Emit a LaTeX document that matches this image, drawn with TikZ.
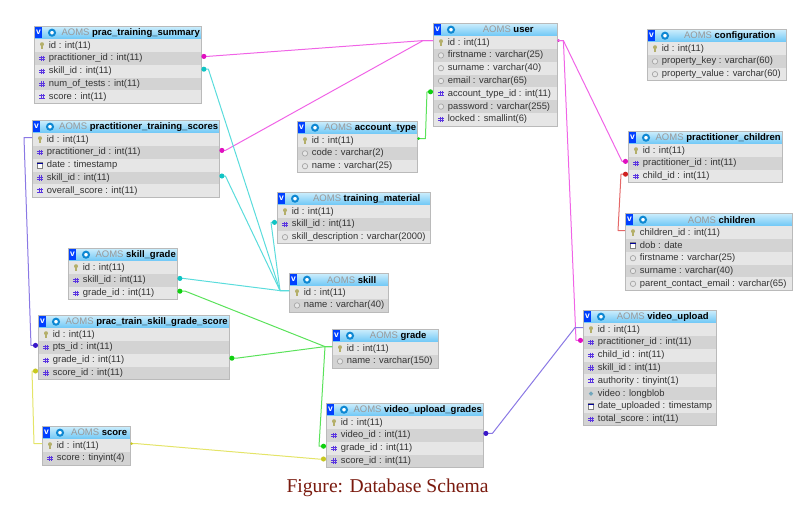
\documentclass[tikz,border=0pt]{standalone}
\usepackage{fontspec}
\setmainfont{Liberation Sans}
\newfontfamily\captionfont{Liberation Serif}
\usetikzlibrary{arrows.meta, calc}

\definecolor{rowa}{HTML}{E6E6E6}
\definecolor{rowb}{HTML}{D3D3D3}
\definecolor{bartop}{HTML}{CDEEFC}
\definecolor{barbot}{HTML}{6CC6F6}
\definecolor{hashblue}{HTML}{5A35E0}
\definecolor{linepink}{HTML}{F064E6}
\definecolor{dotpink}{HTML}{E010C0}
\definecolor{linecyan}{HTML}{5ADCDC}
\definecolor{dotcyan}{HTML}{10C4C4}
\definecolor{linegreen}{HTML}{5AE25A}
\definecolor{dotgreen}{HTML}{10D010}
\definecolor{linepurple}{HTML}{8A78E4}
\definecolor{dotpurple}{HTML}{3A18C8}
\definecolor{lineyellow}{HTML}{E4E468}
\definecolor{dotyellow}{HTML}{C8C820}
\definecolor{linered}{HTML}{E46868}
\definecolor{dotred}{HTML}{D02020}

\tikzset{
  titlebar/.style={rectangle, inner sep=0, minimum height=13pt, top color=bartop, bottom color=barbot},
  checkbox/.style={rectangle, fill=blue!75!cyan, text=white, inner sep=0, minimum width=7.5pt, minimum height=11.5pt, font=\fontsize{8.5}{8.5}\bfseries\selectfont},
  gear/.style={circle, draw=cyan!70!blue, line width=2pt, fill=white, inner sep=0, minimum size=6pt},
  titletext/.style={inner sep=0, text=black, font=\fontsize{9.5}{10}\selectfont},
  rowbox/.style={rectangle, inner sep=0, minimum height=12.8pt, anchor=north west},
  rowtext/.style={inner sep=0, anchor=west, text=black!80, font=\fontsize{9.4}{10}\selectfont},
  tableframe/.style={draw=black!27, line width=0.9pt},
  rel/.style 2 args={draw=#1, line width=1pt, line join=round, -{Circle[length=5pt, color=#2, fill=#2]}},
  relpk/.style 2 args={draw=#1, line width=1pt, line join=round, {Circle[length=2.5pt, color=#2, fill=#2]}-{Circle[length=5pt, color=#2, fill=#2]}},
  pics/icon-k/.style={code={
    \fill[yellow!55!black!75] (0,-1.4) circle (2pt);
    \fill[yellow!55!black!75] (-1,-1) rectangle (1,3.2);}},
  pics/icon-h/.style={code={
    \draw[hashblue, line width=0.8pt] (-2.6,-1.1) -- (2.6,-1.1) (-2.6,1.1) -- (2.6,1.1) (-1.1,-2.6) -- (-1.1,2.6) (1.1,-2.6) -- (1.1,2.6);}},
  pics/icon-c/.style={code={
    \draw[black!35, fill=rowa, line width=0.7pt] (0,0) circle (2.7pt);}},
  pics/icon-d/.style={code={
    \draw[black!50, fill=white, line width=0.6pt] (-2.7,-2.7) rectangle (2.7,2.7);
    \fill[blue!60!black] (-2.7,-2.7) rectangle (2.7,-1.2);}},
  pics/icon-b/.style={code={
    \fill[cyan!60!black!70] (-2.2,0) -- (0,-2.2) -- (2.2,0) -- (0,2.2) -- cycle;}}
}

% name, left, top, width, title, rows as icon/text
\newcommand{\dbtable}[6]{%
  \node[titlebar, minimum width=#4pt, anchor=north west] (#1-0) at (#2,#3) {};
  \node[checkbox] (#1-c) at ([xshift=4.5pt]#1-0.west) {v};
  \node[gear] (#1-g) at ([xshift=18pt]#1-0.west) {};
  \node[titletext] (#1-t) at ([xshift=13pt]#1-0.center) {\textcolor{black!40}{AOMS} \textbf{#5}};
  \foreach \ic/\txt [count=\i] in {#6} {
    \ifodd\i\def\rowcol{rowa}\else\def\rowcol{rowb}\fi
    \pgfmathsetmacro\rowy{#3+13+(\i-1)*12.8}
    \node[rowbox, fill=\rowcol, minimum width=#4pt] (#1-\i) at (#2,\rowy) {};
    \node[rowtext] (#1-\i-t) at ([xshift=14.7pt]#1-\i.west) {\txt};
    \pic at ([xshift=8pt]#1-\i.west) {icon-\ic};
    \coordinate (#1-\i-l) at ([yshift=2pt]#1-\i.west);
    \coordinate (#1-\i-r) at ([yshift=2pt]#1-\i.east);
    \xdef\lastrow{\i}
  }
  \draw[tableframe] (#1-0.north west) rectangle (#1-\lastrow.south east);
}

\begin{document}
\begin{tikzpicture}[x=1pt, y=-1pt]
  \useasboundingbox (0,0) rectangle (802,509);

  % Left column
  \dbtable{summary}{34}{26}{167}{prac\_training\_summary}{k/id : int(11), h/practitioner\_id : int(11), h/skill\_id : int(11), h/num\_of\_tests : int(11), h/score : int(11)}
  \dbtable{scores}{32}{120}{187}{practitioner\_training\_scores}{k/id : int(11), h/practitioner\_id : int(11), d/date : timestamp, h/skill\_id : int(11), h/overall\_score : int(11)}
  \dbtable{skillgrade}{68}{248}{109}{skill\_grade}{k/id : int(11), h/skill\_id : int(11), h/grade\_id : int(11)}
  \dbtable{ptsgs}{38}{315}{191}{prac\_train\_skill\_grade\_score}{k/id : int(11), h/pts\_id : int(11), h/grade\_id : int(11), h/score\_id : int(11)}
  \dbtable{score}{42}{426}{88}{score}{k/id : int(11), h/score : tinyint(4)}

  % Middle column
  \dbtable{user}{433}{23}{124}{user}{k/id : int(11), c/firstname : varchar(25), c/surname : varchar(40), c/email : varchar(65), h/account\_type\_id : int(11), c/password : varchar(255), h/locked : smallint(6)}
  \dbtable{account}{297}{121}{120}{account\_type}{k/id : int(11), c/code : varchar(2), c/name : varchar(25)}
  \dbtable{material}{277}{192}{153}{training\_material}{k/id : int(11), h/skill\_id : int(11), c/skill\_description : varchar(2000)}
  \dbtable{skill}{289}{273}{99}{skill}{k/id : int(11), c/name : varchar(40)}
  \dbtable{grade}{332}{329}{106}{grade}{k/id : int(11), c/name : varchar(150)}
  \dbtable{vugrades}{326}{403}{157}{video\_upload\_grades}{k/id : int(11), h/video\_id : int(11), h/grade\_id : int(11), h/score\_id : int(11)}

  % Right column
  \dbtable{config}{647}{29}{139}{configuration}{k/id : int(11), c/property\_key : varchar(60), c/property\_value : varchar(60)}
  \dbtable{pchildren}{628}{131}{154}{practitioner\_children}{k/id : int(11), h/practitioner\_id : int(11), h/child\_id : int(11)}
  \dbtable{children}{625}{213}{167}{children}{k/children\_id : int(11), d/dob : date, c/firstname : varchar(25), c/surname : varchar(40), c/parent\_contact\_email : varchar(65)}
  \dbtable{video}{583}{310}{133}{video\_upload}{k/id : int(11), h/practitioner\_id : int(11), h/child\_id : int(11), h/skill\_id : int(11), h/authority : tinyint(1), b/video : longblob, d/date\_uploaded : timestamp, h/total\_score : int(11)}

  % Shared bends
  \coordinate (userleft) at ([xshift=-10pt]user-1-l);
  \coordinate (userright) at ([xshift=6pt]user-1-r);
  \coordinate (skilljoin) at ([xshift=-9pt]skill-1-l);
  \coordinate (gradejoin) at ([xshift=-7pt]grade-1-l);

  % Pink links
  \draw[rel={linepink}{dotpink}] (user-1-l) -- (userleft) -- ([xshift=6pt]summary-2-r) -- (summary-2-r);
  \draw[rel={linepink}{dotpink}] (user-1-l) -- (userleft) -- ([xshift=6pt]scores-2-r) -- (scores-2-r);
  \draw[relpk={linepink}{dotpink}] (user-1-r) -- (userright) -- ([xshift=-6pt]pchildren-2-l) -- (pchildren-2-l);
  \draw[rel={linepink}{dotpink}] (user-1-r) -- (userright) -- ([xshift=-7pt]video-2-l) -- (video-2-l);

  % Cyan links
  \draw[rel={linecyan}{dotcyan}] (skill-1-l) -- (skilljoin) -- ([xshift=7pt]summary-3-r) -- (summary-3-r);
  \draw[rel={linecyan}{dotcyan}] (skill-1-l) -- (skilljoin) -- ([xshift=6pt]scores-4-r) -- (scores-4-r);
  \draw[rel={linecyan}{dotcyan}] (skill-1-l) -- (skilljoin) -- ([xshift=-6pt]material-2-l) -- (material-2-l);
  \draw[rel={linecyan}{dotcyan}] (skill-1-l) -- (skilljoin) -- ([xshift=6pt]skillgrade-2-r) -- (skillgrade-2-r);

  % Green links
  \draw[relpk={linegreen}{dotgreen}] (account-1-r) -- ([xshift=8pt]account-1-r) -- ([xshift=-6pt]user-5-l) -- (user-5-l);
  \draw[rel={linegreen}{dotgreen}] (grade-1-l) -- (gradejoin) -- ([xshift=8pt]skillgrade-3-r) -- (skillgrade-3-r);
  \draw[rel={linegreen}{dotgreen}] (grade-1-l) -- (gradejoin) -- ([xshift=7pt]ptsgs-3-r) -- (ptsgs-3-r);
  \draw[rel={linegreen}{dotgreen}] (grade-1-l) -- (gradejoin) -- ([xshift=-7pt]vugrades-3-l) -- (vugrades-3-l);

  % Remaining links
  \draw[rel={linepurple}{dotpurple}] (scores-1-l) -- ([xshift=-8pt]scores-1-l) -- ([xshift=-7pt]ptsgs-2-l) -- (ptsgs-2-l);
  \draw[rel={linepurple}{dotpurple}] (video-1-l) -- ([xshift=-8pt]video-1-l) -- ([xshift=9pt]vugrades-2-r) -- (vugrades-2-r);
  \draw[rel={lineyellow}{dotyellow}] (score-1-l) -- ([xshift=-8pt]score-1-l) -- ([xshift=-6pt]ptsgs-4-l) -- (ptsgs-4-l);
  \draw[relpk={lineyellow}{dotyellow}] (score-1-r) -- ([xshift=6pt]score-1-r) -- ([xshift=-8pt]vugrades-4-l) -- (vugrades-4-l);
  \draw[rel={linered}{dotred}] (children-1-l) -- ([xshift=-7pt]children-1-l) -- ([xshift=-7pt]pchildren-3-l) -- (pchildren-3-l);

  % Caption
  \node[inner sep=0, text={rgb,255:red,122;green,26;blue,14}, font=\captionfont\fontsize{19.6}{22}\selectfont] (caption) at (387.5,488) {Figure: Database Schema};
\end{tikzpicture}
\end{document}
